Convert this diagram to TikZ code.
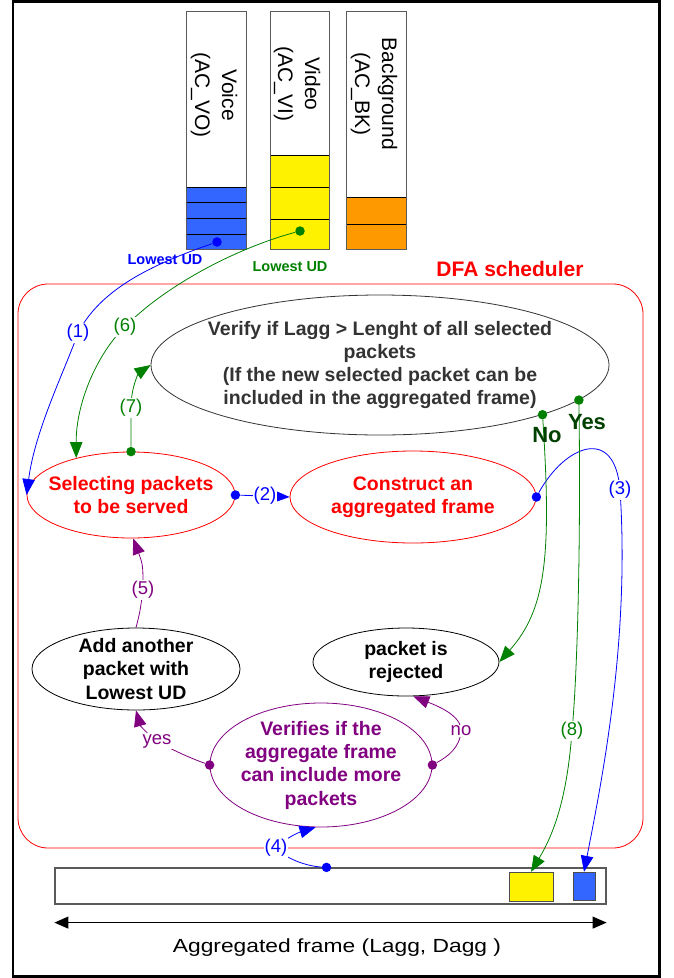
\documentclass[tikz,border=0pt]{standalone}
\usepackage{fontspec}
\setmainfont{Liberation Sans}
\newfontfamily\widefont{Liberation Sans}[FakeStretch=1.2]
\usetikzlibrary{shapes.geometric,arrows.meta}

\definecolor{vblue}{RGB}{51,102,255}
\definecolor{vorange}{RGB}{255,153,0}
\definecolor{dgreen}{RGB}{0,128,0}
\definecolor{ddgreen}{RGB}{0,64,0}
\definecolor{vpurple}{RGB}{128,0,128}
\definecolor{qgrey}{RGB}{90,90,90}

\begin{document}
\begin{tikzpicture}[x=1pt,y=-1pt,
  bubble/.style={ellipse, draw, line width=0.8pt, inner sep=0pt},
  bubtext/.style={font=\fontsize{19.5}{23.3}\selectfont\bfseries, align=center},
  flow/.style={-{Triangle[length=16pt,width=12.5pt]}, line width=0.8pt},
  dot/.style={circle, fill, inner sep=0pt, minimum size=9.5pt},
  num/.style={font=\fontsize{18.5}{20}\selectfont, fill=white, inner sep=1pt},
  yesno/.style={font=\fontsize{22}{24}\selectfont\bfseries, text=ddgreen},
  qtext/.style={font=\fontsize{21}{27}\selectfont, align=center, rotate=-90},
  lowud/.style={font=\fontsize{14.5}{16}\selectfont\bfseries}]
  \useasboundingbox (0,0) rectangle (673,978);
  \draw[line width=2.7pt] (13,1.5) rectangle (659.5,976.5);

  \draw[fill=vblue] (186,187) rectangle (246,202);
  \draw[fill=vblue] (186,202) rectangle (246,218);
  \draw[fill=vblue] (186,218) rectangle (246,234);
  \draw[fill=vblue] (186,234) rectangle (246,249);
  \draw[fill=yellow] (270,155) rectangle (329,187);
  \draw[fill=yellow] (270,187) rectangle (329,219);
  \draw[fill=yellow] (270,219) rectangle (329,249);
  \draw[fill=vorange] (346,197) rectangle (406,224);
  \draw[fill=vorange] (346,224) rectangle (406,249);
  \draw[qgrey, line width=1pt] (186,11) rectangle (246,249);
  \draw[qgrey, line width=1pt] (270,11) rectangle (329,249);
  \draw[qgrey, line width=1pt] (346,11) rectangle (406,249);
  \node[qtext] (voice) at (214,95) {Voice\\(AC\_VO)};
  \node[qtext] (video) at (297,84) {Video\\(AC\_VI)};
  \node[qtext] (bk) at (374,94) {Background\\(AC\_BK)};

  \draw[red, line width=0.8pt, rounded corners=30pt] (18,284) rectangle (643,848);
  \node[font=\fontsize{21}{24}\selectfont\bfseries, text=red] (dfa) at (510,269) {DFA scheduler};

  \node[bubble, draw=black!80, minimum width=458pt, minimum height=140pt,
    label={[bubtext, text=black!80]center:{Verify if Lagg > Lenght of all selected\\packets\\(If the new selected packet can be\\included in the aggregated frame)}}] (verify) at (380,365) {};
  \node[bubble, draw=red, minimum width=208pt, minimum height=86pt,
    label={[bubtext, text=red]center:{Selecting packets\\to be served}}] (select) at (131,495) {};
  \node[bubble, draw=red, minimum width=246pt, minimum height=92pt,
    label={[bubtext, text=red]center:{Construct an\\aggregated frame}}] (construct) at (413,497) {};
  \node[bubble, minimum width=208pt, minimum height=82pt,
    label={[bubtext]center:{Add another\\packet with\\Lowest UD}}] (addpkt) at (136,669) {};
  \node[bubble, minimum width=186pt, minimum height=68pt,
    label={[bubtext]center:{packet is\\rejected}}] (reject) at (406,662) {};
  \node[bubble, draw=vpurple, minimum width=222pt, minimum height=124pt,
    label={[bubtext, text=vpurple]center:{Verifies if the\\aggregate frame\\can include more\\packets}}] (verifies) at (321,765) {};

  \node[draw=qgrey, line width=1.2pt, inner sep=0pt, minimum width=551pt, minimum height=36pt] (frame) at (330.5,886) {};
  \node[draw=black!70, fill=yellow, inner sep=0pt, minimum width=44pt, minimum height=29pt] (ybox) at (531,886.5) {};
  \node[draw=black!70, fill=vblue, inner sep=0pt, minimum width=22pt, minimum height=28pt] (bbox) at (584,886) {};
  \draw[{Triangle[length=14pt,width=12pt]}-{Triangle[length=14pt,width=12pt]}, line width=1pt]
    ([yshift=-18pt]frame.south west) -- ([yshift=-18pt]frame.south east);
  \node[font=\widefont\fontsize{19}{22}\selectfont] (aggr) at (337,948) {Aggregated frame (Lagg, Dagg )};

  \node[dot, blue] (d1) at (217,242) {};
  \node[dot, dgreen] (d6) at (300,231) {};
  \node[dot, dgreen] (d7) at (select.north) {};
  \node[dot, blue] (d2) at (select.east) {};
  \node[dot, blue] (d3) at (construct.east) {};
  \node[dot, dgreen] (d9) at (verify.-17) {};
  \node[dot, dgreen] (d8) at (verify.-10) {};
  \node[dot, vpurple] (dyes) at (verifies.west) {};
  \node[dot, vpurple] (dno) at (verifies.east) {};
  \node[dot, blue] (d4) at ([xshift=-4pt]frame.north) {};

  \draw[flow, blue] (d1) .. controls (150,265) and (100,290) .. (78,333) node[num, text=blue] {(1)}
    .. controls (65,370) and (35,430) .. (select.west);
  \draw[flow, dgreen] (d6) .. controls (230,250) and (160,290) .. (125,327) node[num, text=dgreen] {(6)}
    .. controls (100,350) and (76,400) .. (select.146);
  \draw[flow, dgreen] (d7) .. controls (131,430) .. (131,408) node[num, text=dgreen] {(7)}
    .. controls (131,385) and (140,372) .. (verify.west);
  \draw[flow, blue] (d2) -- (construct.west) node[midway, num, text=blue] {(2)};
  \draw[flow, blue] (d3) .. controls (565,445) and (615,425) .. (620,490) node[num, text=blue] {(3)}
    .. controls (630,640) and (602,780) .. (bbox.north);
  \draw[flow, dgreen] (d9) .. controls (552,560) and (545,610) .. (reject.east);
  \draw[flow, dgreen] (d8) .. controls (581,550) and (577,680) .. (572,731) node[num, text=dgreen] {(8)}
    .. controls (567,800) and (553,835) .. (ybox.north);
  \draw[flow, vpurple] (addpkt.north) .. controls (140,612) .. (143,590) node[num, text=vpurple] {(5)}
    .. controls (143,565) .. (select.-87);
  \draw[flow, vpurple] (dyes) .. controls (190,758) and (168,748) .. (157,741) node[num, text=vpurple] {yes}
    .. controls (147,734) and (140,725) .. (addpkt.south);
  \draw[flow, vpurple] (dno) .. controls (447,757) and (460,748) .. (461,731) node[num, text=vpurple] {no}
    .. controls (462,715) and (435,705) .. (reject.-78);
  \draw[flow, blue] (d4) .. controls (305,866) and (285,858) .. (276,848) node[num, text=blue] {(4)}
    .. controls (285,838) and (300,832) .. (verifies.-95);

  \node[lowud, text=blue] (ud1) at (165,260) {Lowest UD};
  \node[lowud, text=dgreen] (ud6) at (290,267) {Lowest UD};
  \node[yesno] (no) at (547,435) {No};
  \node[yesno] (yes) at (587,422) {Yes};
\end{tikzpicture}
\end{document}
